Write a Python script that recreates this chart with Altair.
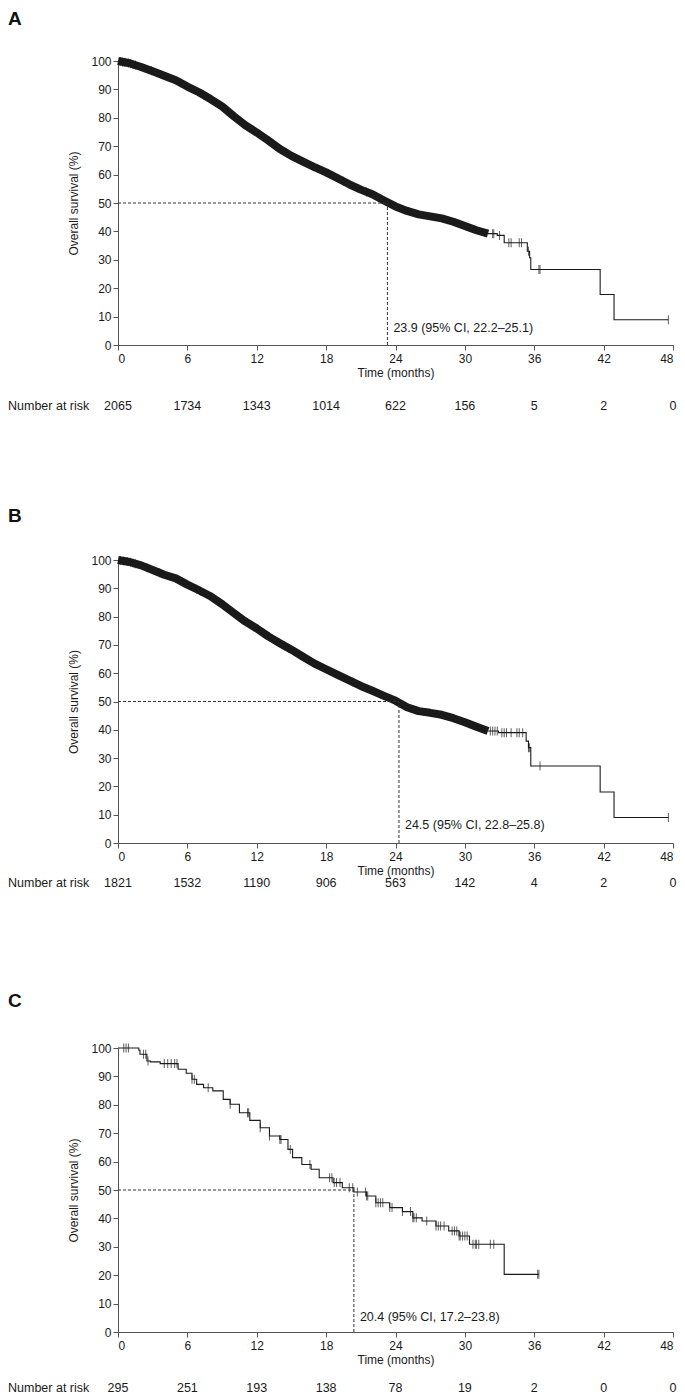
import altair as alt
import numpy as np
import pandas as pd

FONT = "Liberation Sans"
INK = "#1a1a1a"
AXIS_GREY = "#555555"

x_ticks = [0, 6, 12, 18, 24, 30, 36, 42, 48]
y_ticks = [0, 10, 20, 30, 40, 50, 60, 70, 80, 90, 100]

# ---------------- Panel A ----------------
a_time = [0, 1, 2, 3, 4, 5, 6, 7, 8, 9, 10, 11, 12, 13, 14, 15, 16, 17, 18, 19, 20,
          21, 22, 23, 24, 25, 26, 27, 28, 29, 30, 31, 32, 32.8, 33.4, 35.4, 35.6, 35.7,
          41.7, 42.9, 47.6]
a_surv = [100, 99.2, 97.9, 96.4, 94.8, 93.2, 91.0, 89.0, 86.6, 84.0, 80.6, 77.4, 74.8,
          72.0, 69.0, 66.6, 64.6, 62.6, 60.8, 58.7, 56.6, 54.7, 53.1, 50.9, 48.8, 47.2,
          46.0, 45.3, 44.6, 43.4, 41.9, 40.4, 39.2, 38.6, 36.0, 33.0, 30.7, 26.6,
          17.8, 8.9, 8.9]
a_band_end = 32.0
a_censor = [0.2, 0.4, 0.6, 0.9, 1.1, 1.3, 1.5, 2.9, 5.4, 7.4, 9.4, 11.7, 13.1, 13.6,
            14.1, 14.6, 16.9, 19.5, 21.5, 32.4, 32.5, 33.0, 33.8, 34.0, 34.7, 34.9,
            35.5, 36.4, 36.5, 47.6]
a_at_risk = [2065, 1734, 1343, 1014, 622, 156, 5, 2, 0]
a_median_line = 23.3
a_median_label = "23.9 (95% CI, 22.2\u201325.1)"

# ---------------- Panel B ----------------
b_time = [0, 1, 2, 3, 4, 5, 6, 7, 8, 9, 10, 11, 12, 13, 14, 15, 16, 17, 18, 19, 20,
          21, 22, 23, 24, 25, 26, 27, 28, 29, 30, 31, 32, 32.9, 35.3, 35.5, 35.7,
          41.7, 42.9, 47.6]
b_surv = [100, 99.3, 98.1, 96.5, 94.8, 93.5, 91.3, 89.3, 87.2, 84.4, 81.3, 78.3, 75.8,
          73.0, 70.6, 68.3, 65.8, 63.4, 61.4, 59.4, 57.5, 55.5, 53.8, 52.0, 50.3, 48.0,
          46.6, 46.0, 45.3, 44.1, 42.7, 41.1, 39.6, 39.0, 36.0, 33.7, 27.2,
          18.0, 9.0, 9.0]
b_band_end = 32.0
b_censor = [0.2, 0.5, 0.8, 1.1, 1.3, 1.5, 2.5, 3.6, 6.8, 7.1, 9.2, 9.5, 12.0, 12.6,
            13.1, 13.9, 14.4, 14.8, 17.0, 20.3, 32.2, 32.4, 32.6, 32.8, 33.2, 33.4,
            33.6, 34.0, 34.5, 34.7, 35.0, 35.5, 35.6, 36.5, 47.6]
b_at_risk = [1821, 1532, 1190, 906, 563, 142, 4, 2, 0]
b_median_line = 24.3
b_median_label = "24.5 (95% CI, 22.8\u201325.8)"

# ---------------- Panel C ----------------
c_time = [0, 1.8, 1.9, 2.5, 2.8, 3.65, 5.2, 5.9, 6.4, 6.8, 7.4, 8.2, 9.1, 9.7, 10.5,
          11.4, 12.3, 13.1, 14.0, 14.7, 15.1, 15.9, 16.7, 17.4, 18.6, 19.4, 20.4, 21.5,
          22.3, 23.5, 24.6, 25.5, 26.3, 27.5, 28.6, 29.5, 30.4, 33.4, 36.4]
c_surv = [100, 99.2, 97.8, 95.4, 95.1, 94.5, 92.5, 91.1, 89.0, 87.2, 86.0, 84.9, 81.9,
          80.2, 77.2, 74.5, 71.9, 69.0, 67.8, 64.3, 61.4, 59.0, 57.3, 54.3, 52.6, 50.8,
          49.3, 47.9, 45.5, 43.8, 42.4, 40.2, 39.1, 37.3, 35.6, 33.8, 30.9, 20.3, 20.3]
c_censor = [0.5, 0.7, 0.9, 2.2, 2.4, 2.6, 4.0, 4.3, 4.6, 4.9, 5.1, 6.4, 6.6, 7.8, 9.7,
            11.2, 11.3, 12.3, 13.1, 14.0, 14.1, 14.9, 16.6, 18.3, 18.5, 18.7, 18.9,
            19.2, 20.0, 20.3, 20.7, 21.4, 21.5, 21.6, 22.3, 22.5, 22.7, 22.9, 23.5,
            23.7, 24.6, 25.3, 25.5, 25.6, 25.8, 26.7, 27.5, 27.7, 27.9, 28.2, 28.9,
            29.1, 29.3, 29.5, 29.6, 29.8, 30.0, 30.2, 30.7, 30.9, 31.0, 31.2, 32.2,
            32.5, 36.3, 36.4]
c_at_risk = [295, 251, 193, 138, 78, 19, 2, 0, 0]
c_median_line = 20.4
c_median_label = "20.4 (95% CI, 17.2\u201323.8)"


def censor_positions(times, surv, censor, band_end):
    times = np.asarray(times, dtype=float)
    surv = np.asarray(surv, dtype=float)
    ys = []
    for t in censor:
        if band_end is not None and t <= band_end:
            ys.append(float(np.interp(t, times, surv)))
        else:
            idx = int(np.searchsorted(times, t, side="right")) - 1
            ys.append(float(surv[idx]))
    return pd.DataFrame({"t": censor, "v": ys})


def panel(letter, time, surv, band_end, censor, at_risk, med_line, med_label,
          height, nar_offset, letter_offset, label_v):
    x_axis = alt.Axis(values=x_ticks, title="Time (months)", grid=False,
                      domainColor=AXIS_GREY, tickColor=AXIS_GREY, tickSize=5,
                      labelPadding=3, titlePadding=3, labelFontSize=12,
                      titleFontSize=12, titleFontWeight="normal", labelColor=INK,
                      titleColor=INK)
    y_axis = alt.Axis(values=y_ticks, title="Overall survival (%)", grid=False,
                      domainColor=AXIS_GREY, tickColor=AXIS_GREY, tickSize=5,
                      labelPadding=2, titlePadding=10, labelFontSize=12,
                      titleFontSize=12, titleFontWeight="normal", labelColor=INK,
                      titleColor=INK)
    xs = alt.Scale(domain=[0, 48], nice=False, zero=False)
    ys = alt.Scale(domain=[0, 100], nice=False)

    def X(f):
        return alt.X(f, scale=xs, axis=x_axis)

    def Y(f):
        return alt.Y(f, scale=ys, axis=y_axis)

    curve = pd.DataFrame({"t": time, "v": surv})
    layers = []
    if band_end is not None:
        band = curve[curve.t <= band_end]
        tail = curve[curve.t >= band.t.max()]
        layers.append(
            alt.Chart(band).mark_line(color=INK, strokeWidth=8, strokeCap="butt",
                                      strokeJoin="round")
            .encode(x=X("t:Q"), y=Y("v:Q"))
        )
    else:
        tail = curve
    layers.append(
        alt.Chart(tail).mark_line(interpolate="step-after", color=INK, strokeWidth=1.1)
        .encode(x=X("t:Q"), y=Y("v:Q"))
    )
    cens = censor_positions(time, surv, censor, band_end)
    layers.append(
        alt.Chart(cens).mark_tick(orient="vertical", size=9, thickness=1, color=INK)
        .encode(x=X("t:Q"), y=Y("v:Q"))
    )
    med = pd.DataFrame({"t": [med_line], "t0": [0.0], "v": [50.0], "v0": [0.0],
                        "lv": [label_v], "label": [med_label]})
    layers.append(
        alt.Chart(med).mark_rule(color="#333333", strokeDash=[3, 2], strokeWidth=1)
        .encode(x=X("t0:Q"), x2="t:Q", y=Y("v:Q"))
    )
    layers.append(
        alt.Chart(med).mark_rule(color="#333333", strokeDash=[3, 2], strokeWidth=1)
        .encode(x=X("t:Q"), y=Y("v0:Q"), y2="v:Q")
    )
    layers.append(
        alt.Chart(med).mark_text(align="left", baseline="middle", dx=6, fontSize=12.5,
                                 color=INK, font=FONT)
        .encode(x=X("t:Q"), y=Y("lv:Q"), text="label:N")
    )
    nar = pd.DataFrame({"t": x_ticks, "n": [str(n) for n in at_risk]})
    layers.append(
        alt.Chart(nar).mark_text(align="center", baseline="middle", fontSize=12.5,
                                 color=INK, font=FONT)
        .encode(x=X("t:Q"), y=alt.value(height + nar_offset), text="n:N")
    )
    layers.append(
        alt.Chart(nar.head(1)).mark_text(align="left", baseline="middle", fontSize=12.5,
                                         color=INK, font=FONT)
        .encode(x=alt.value(-110), y=alt.value(height + nar_offset),
                text=alt.value("Number at risk"))
    )
    layers.append(
        alt.Chart(nar.head(1)).mark_text(align="left", baseline="middle", fontSize=19,
                                         fontWeight="bold", color="#111111", font=FONT)
        .encode(x=alt.value(-110), y=alt.value(letter_offset), text=alt.value(letter))
    )
    return alt.layer(*layers).properties(
        width=555, height=height,
        view=alt.ViewBackground(strokeWidth=0, strokeOpacity=0),
    )


pa = panel("A", a_time, a_surv, a_band_end, a_censor, a_at_risk, a_median_line,
           a_median_label, 284, 61, -42, 6.0)
pb = panel("B", b_time, b_surv, b_band_end, b_censor, b_at_risk, b_median_line,
           b_median_label, 283, 40, -44, 6.4)
pc = panel("C", c_time, c_surv, None, c_censor, c_at_risk, c_median_line,
           c_median_label, 284, 56, -47, 5.3)

inner = alt.vconcat(pb, pc, spacing=205, bounds="flush")
chart = (
    alt.vconcat(pa, inner, spacing=215, bounds="flush",
                padding={"top": 2, "left": 0, "right": 0, "bottom": 0})
    .configure_view(strokeWidth=0, strokeOpacity=0)
    .configure_axis(grid=False)
    .configure(font=FONT)
)

chart.save("out.html", embed_options={"renderer": "svg", "actions": False})
